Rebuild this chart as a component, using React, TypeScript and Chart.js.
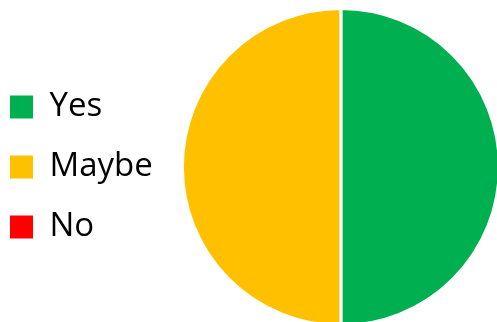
import React, { useEffect, useRef } from "react";
import { Chart, registerables } from "chart.js";

Chart.register(...registerables);

const categories = ["Yes", "Maybe", "No"];
const values = [50, 50, 0];
const colors = ["#00B050", "#FFC000", "#FF0000"];

export default function App() {
  const ref = useRef<HTMLCanvasElement>(null);
  useEffect(() => {
    document.body.style.margin = "0";
    document.body.style.overflow = "hidden";
    const baseGen = (Chart as any).overrides.pie.plugins.legend.labels.generateLabels;
    const chart = new Chart(ref.current!, {
      type: "pie",
      data: {
        labels: categories,
        datasets: [
          {
            data: values,
            backgroundColor: colors,
            borderColor: "#ffffff",
            borderWidth: 3,
          },
        ],
      },
      options: {
        animation: false,
        responsive: false,
        maintainAspectRatio: false,
        layout: { padding: { top: 7, bottom: 6, left: 0, right: 44 } },
        plugins: {
          tooltip: { enabled: false },
          legend: {
            position: "left",
            align: "center",
            labels: {
              boxWidth: 23,
              boxHeight: 23,
              padding: 27,
              color: "#000000",
              font: { family: "'Open Sans', sans-serif", size: 33, weight: "500" },
              generateLabels: (c: any) =>
                baseGen(c).map((it: any) => ({ ...it, lineWidth: 0, strokeStyle: "rgba(0,0,0,0)" })),
            },
          },
        },
      },
    });
    return () => chart.destroy();
  }, []);
  return (
    <div style={{ position: "fixed", left: 0, top: 0, width: 497, height: 322, overflow: "hidden" }}>
      <canvas
        ref={ref}
        width={580}
        height={333}
        style={{ position: "absolute", left: -17, top: 0, width: 580, height: 333 }}
      />
    </div>
  );
}
